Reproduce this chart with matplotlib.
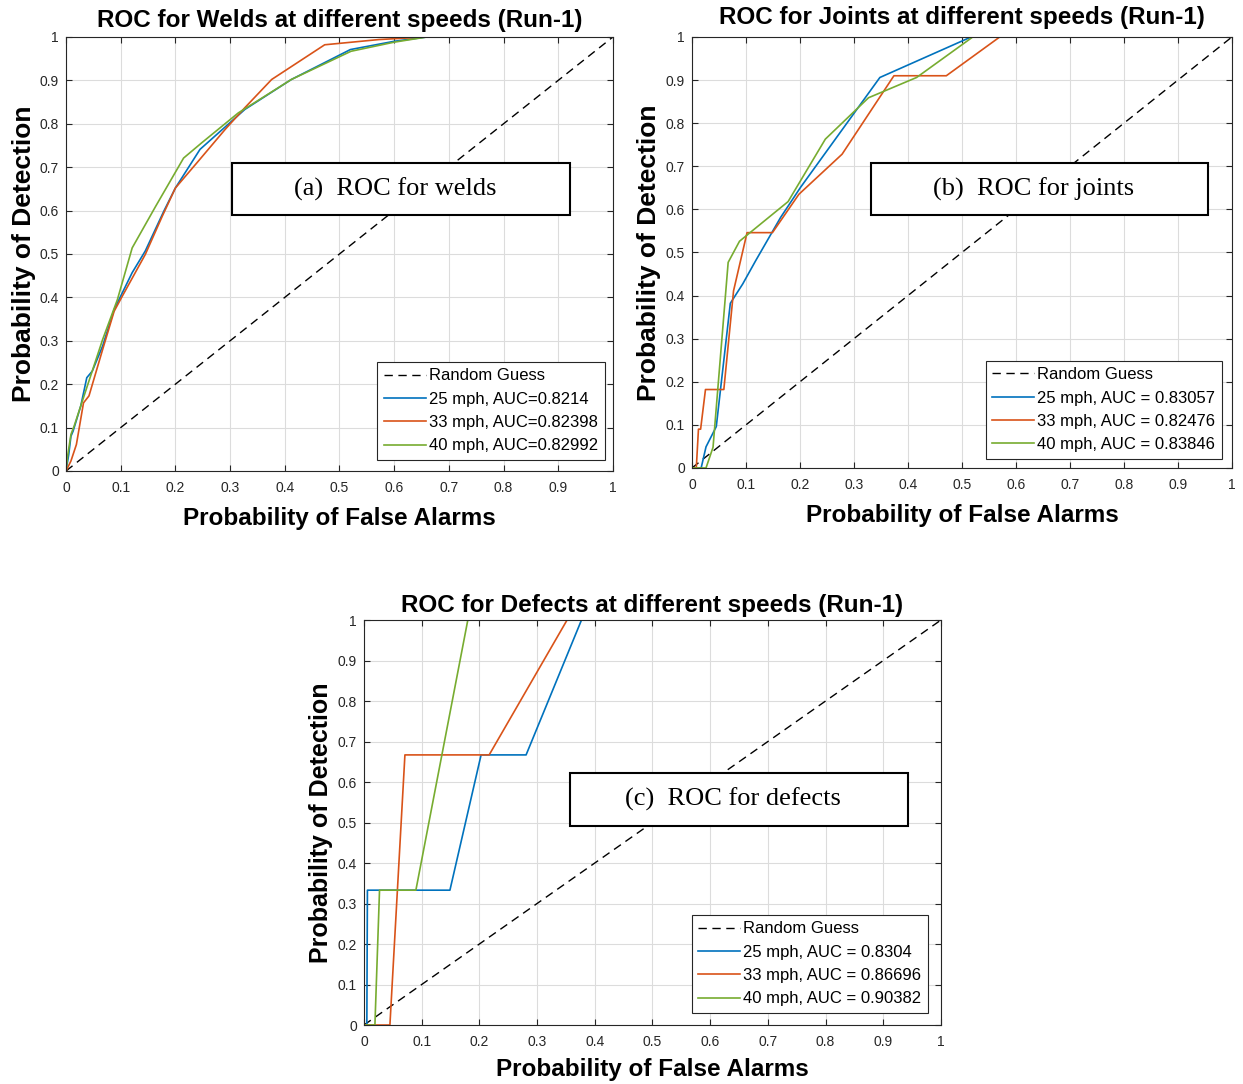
import numpy as np
import matplotlib.pyplot as plt
from matplotlib.patches import Rectangle

plt.rcParams['font.family'] = ['Liberation Sans', 'DejaVu Sans']

# colours used by the original (MATLAB default order)
c_blue = '#0072BD'
c_orange = '#D95319'
c_green = '#77AC30'

speeds = ['25 mph', '33 mph', '40 mph']

# ---- (a) welds ----
welds_auc = ['0.8214', '0.82398', '0.82992']
welds_25_fpr = [0, 0.005, 0.009, 0.013, 0.027, 0.038, 0.048, 0.067, 0.088, 0.121, 0.145, 0.179, 0.2, 0.245, 0.327, 0.412, 0.52, 0.6, 0.66, 1.0]
welds_25_tpr = [0, 0.038, 0.08, 0.092, 0.15, 0.215, 0.23, 0.288, 0.372, 0.457, 0.507, 0.599, 0.652, 0.741, 0.833, 0.902, 0.971, 0.99, 1.0, 1.0]
welds_33_fpr = [0, 0.009, 0.019, 0.032, 0.042, 0.067, 0.088, 0.103, 0.145, 0.176, 0.2, 0.242, 0.291, 0.327, 0.376, 0.473, 0.572, 0.659, 1.0]
welds_33_tpr = [0, 0.023, 0.061, 0.157, 0.173, 0.28, 0.368, 0.403, 0.499, 0.587, 0.652, 0.714, 0.787, 0.837, 0.902, 0.982, 0.994, 1.0, 1.0]
welds_40_fpr = [0, 0.003, 0.009, 0.015, 0.045, 0.067, 0.094, 0.121, 0.164, 0.215, 0.248, 0.315, 0.412, 0.521, 0.6, 0.66, 1.0]
welds_40_tpr = [0, 0.035, 0.084, 0.104, 0.219, 0.303, 0.395, 0.514, 0.61, 0.721, 0.756, 0.825, 0.902, 0.967, 0.988, 1.0, 1.0]

# ---- (b) joints ----
joints_auc = ['0.83057', '0.82476', '0.83846']
joints_25_fpr = [0, 0.017, 0.026, 0.045, 0.071, 0.094, 0.118, 0.164, 0.201, 0.348, 0.517, 1.0]
joints_25_tpr = [0, 0, 0.049, 0.096, 0.382, 0.427, 0.481, 0.581, 0.651, 0.906, 1.0, 1.0]
joints_33_fpr = [0, 0.008, 0.012, 0.016, 0.025, 0.059, 0.077, 0.102, 0.149, 0.198, 0.278, 0.374, 0.471, 0.57, 1.0]
joints_33_tpr = [0, 0, 0.09, 0.09, 0.182, 0.182, 0.411, 0.546, 0.546, 0.635, 0.728, 0.91, 0.91, 1.0, 1.0]
joints_40_fpr = [0, 0.026, 0.039, 0.067, 0.088, 0.131, 0.178, 0.247, 0.327, 0.416, 0.52, 1.0]
joints_40_tpr = [0, 0, 0.048, 0.477, 0.526, 0.57, 0.618, 0.763, 0.859, 0.906, 1.0, 1.0]

# ---- (c) defects ----
defects_auc = ['0.8304', '0.86696', '0.90382']
defects_25_fpr = [0, 0.005, 0.006, 0.149, 0.203, 0.281, 0.377, 1.0]
defects_25_tpr = [0, 0, 0.333, 0.333, 0.667, 0.667, 1.0, 1.0]
defects_33_fpr = [0, 0.045, 0.071, 0.217, 0.352, 1.0]
defects_33_tpr = [0, 0, 0.667, 0.667, 1.0, 1.0]
defects_40_fpr = [0, 0.019, 0.027, 0.090, 0.180, 1.0]
defects_40_tpr = [0, 0, 0.333, 0.333, 1.0, 1.0]

ticks = np.round(np.arange(0, 1.01, 0.1), 1)
tick_labels = ['0', '0.1', '0.2', '0.3', '0.4', '0.5', '0.6', '0.7', '0.8', '0.9', '1']


def roc_panel(ax, title, curves, aucs, sep, note, box, leg_anchor, ylab_size=19, xpad=9, tpad=7):
    ax.plot([0, 1], [0, 1], color='k', ls='--', lw=1.0, dashes=(6, 4), label='Random Guess')
    for (fpr, tpr), spd, auc, col in zip(curves, speeds, aucs, [c_blue, c_orange, c_green]):
        ax.plot(fpr, tpr, color=col, lw=1.2, label=spd + ', AUC' + sep + auc)
    ax.set_xlim(0, 1)
    ax.set_ylim(0, 1)
    ax.set_xticks(ticks)
    ax.set_yticks(ticks)
    ax.set_xticklabels(tick_labels)
    ax.set_yticklabels(tick_labels)
    ax.grid(True, color='#dcdcdc', lw=0.8)
    ax.set_axisbelow(True)
    ax.tick_params(direction='in', top=True, right=True, length=4, width=0.8,
                   labelsize=10, colors='#262626', labelcolor='#262626')
    ax.tick_params(axis='x', pad=7)
    ax.tick_params(axis='y', pad=5)
    for s in ax.spines.values():
        s.set_color('#262626')
        s.set_linewidth(0.8)
    ax.set_title(title, fontsize=17.5, fontweight='bold', pad=tpad)
    ax.set_xlabel('Probability of False Alarms', fontsize=17.5, fontweight='bold', labelpad=xpad)
    ax.set_ylabel('Probability of Detection', fontsize=ylab_size, fontweight='bold', labelpad=3)
    x0, y0, x1, y1 = box
    ax.add_patch(Rectangle((x0, y0), x1 - x0, y1 - y0, transform=ax.transAxes,
                           facecolor='white', edgecolor='black', lw=1.5, zorder=5))
    ax.text((x0 + x1) / 2 - 0.01, (y0 + y1) / 2, note, transform=ax.transAxes,
            ha='center', va='center', fontsize=19, family='Liberation Serif', zorder=6)
    leg = ax.legend(loc='lower right', bbox_to_anchor=leg_anchor, borderaxespad=0,
                    fontsize=12, fancybox=False, framealpha=1, edgecolor='#262626',
                    handlelength=2.5, handletextpad=0.2, labelspacing=0.5,
                    borderpad=0.4)
    leg.get_frame().set_linewidth(0.8)


fig = plt.figure(figsize=(12.43, 10.84), dpi=100)
ax_a = fig.add_axes([0.0531, 0.5655, 0.4400, 0.4004])
ax_b = fig.add_axes([0.5567, 0.5683, 0.4344, 0.3976])
ax_c = fig.add_axes([0.2928, 0.0544, 0.4642, 0.3736])

roc_panel(ax_a, 'ROC for Welds at different speeds (Run-1)',
          [(welds_25_fpr, welds_25_tpr), (welds_33_fpr, welds_33_tpr), (welds_40_fpr, welds_40_tpr)],
          welds_auc, '=', '(a)  ROC for welds', (0.3035, 0.59, 0.921, 0.7097), (0.9854, 0.0253))
roc_panel(ax_b, 'ROC for Joints at different speeds (Run-1)',
          [(joints_25_fpr, joints_25_tpr), (joints_33_fpr, joints_33_tpr), (joints_40_fpr, joints_40_tpr)],
          joints_auc, ' = ', '(b)  ROC for joints', (0.331, 0.587, 0.956, 0.708), (0.9815, 0.0209),
          tpad=9)
roc_panel(ax_c, 'ROC for Defects at different speeds (Run-1)',
          [(defects_25_fpr, defects_25_tpr), (defects_33_fpr, defects_33_tpr), (defects_40_fpr, defects_40_tpr)],
          defects_auc, ' = ', '(c)  ROC for defects', (0.357, 0.491, 0.943, 0.622), (0.9775, 0.0296),
          ylab_size=18, xpad=7, tpad=6)

fig.savefig('out.png', dpi=100)
